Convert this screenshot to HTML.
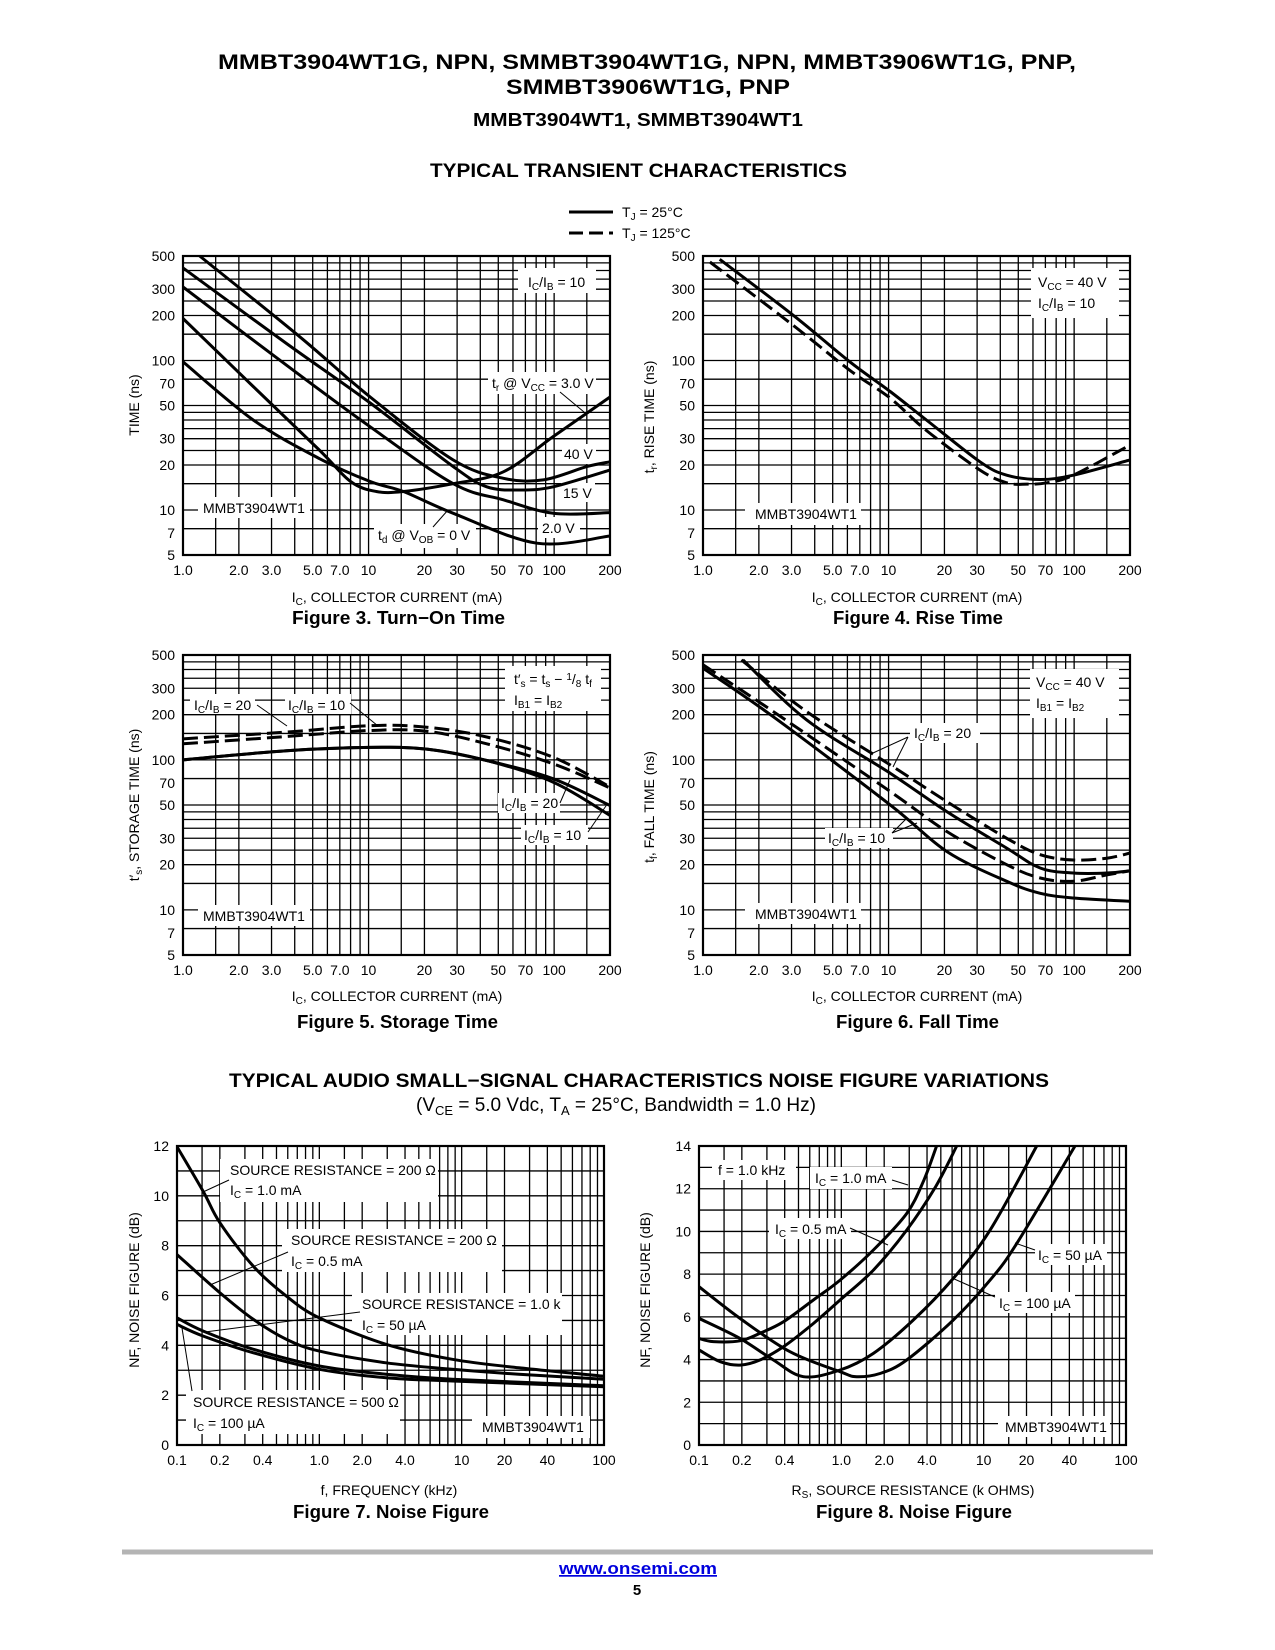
<!DOCTYPE html>
<html><head><meta charset="utf-8"><style>
html,body{margin:0;padding:0;background:#fff;}
svg{display:block;font-family:"Liberation Sans",Arial,sans-serif;}
.t{font-size:14px;fill:#000;}
.b{font-weight:bold;}
</style></head><body>
<svg id="page" width="1275" height="1650" viewBox="0 0 1275 1650" xmlns="http://www.w3.org/2000/svg">
<rect width="1275" height="1650" fill="#fff"/>
<text x="218" y="69" font-size="21" font-weight="bold" textLength="858" lengthAdjust="spacingAndGlyphs">MMBT3904WT1G, NPN, SMMBT3904WT1G, NPN, MMBT3906WT1G, PNP,</text>
<text x="506" y="94" font-size="21" font-weight="bold" textLength="284" lengthAdjust="spacingAndGlyphs">SMMBT3906WT1G, PNP</text>
<text x="473" y="126" font-size="18" font-weight="bold" textLength="330" lengthAdjust="spacingAndGlyphs">MMBT3904WT1, SMMBT3904WT1</text>
<text x="430" y="177" font-size="19" font-weight="bold" textLength="417" lengthAdjust="spacingAndGlyphs">TYPICAL TRANSIENT CHARACTERISTICS</text>
<g>
<line x1="569" y1="212" x2="613" y2="212" stroke="#000" stroke-width="3"/>
<text class="t" x="622" y="217">T<tspan font-size="10" dy="3">J</tspan><tspan dy="-3"> = 25°C</tspan></text>
<line x1="569" y1="233" x2="613" y2="233" stroke="#000" stroke-width="3" stroke-dasharray="14 6"/>
<text class="t" x="622" y="238">T<tspan font-size="10" dy="3">J</tspan><tspan dy="-3"> = 125°C</tspan></text>
</g>
<g id="charts"></g>
<g id="annots">
<rect x="518" y="268" width="78" height="25" fill="#fff"/>
<text class="t" x="528" y="287">I<tspan font-size="10" dy="3">C</tspan><tspan dy="-3">/I</tspan><tspan font-size="10" dy="3">B</tspan><tspan dy="-3"> = 10</tspan></text>
<rect x="488" y="372" width="108" height="22" fill="#fff"/>
<text class="t" x="492" y="388">t<tspan font-size="10" dy="3">r</tspan><tspan dy="-3"> @ V</tspan><tspan font-size="10" dy="3">CC</tspan><tspan dy="-3"> = 3.0 V</tspan></text>
<line x1="560" y1="392" x2="584" y2="412" stroke="#000" stroke-width="1"/>
<rect x="562" y="444" width="34" height="20" fill="#fff"/>
<text class="t" x="564" y="459">40 V</text>
<rect x="561" y="483" width="34" height="19" fill="#fff"/>
<text class="t" x="563" y="498">15 V</text>
<rect x="538" y="517" width="42" height="21" fill="#fff"/>
<text class="t" x="542" y="533">2.0 V</text>
<rect x="374" y="524" width="102" height="24" fill="#fff"/>
<text class="t" x="378" y="540">t<tspan font-size="10" dy="3">d</tspan><tspan dy="-3"> @ V</tspan><tspan font-size="10" dy="3">OB</tspan><tspan dy="-3"> = 0 V</tspan></text>
<line x1="433" y1="527" x2="448" y2="510" stroke="#000" stroke-width="1"/>
<rect x="198" y="497" width="112" height="21" fill="#fff"/>
<text class="t" x="203" y="513">MMBT3904WT1</text>
<rect x="1031" y="268" width="88" height="50" fill="#fff"/>
<text class="t" x="1038" y="287">V<tspan font-size="10" dy="3">CC</tspan><tspan dy="-3"> = 40 V</tspan></text>
<text class="t" x="1038" y="308">I<tspan font-size="10" dy="3">C</tspan><tspan dy="-3">/I</tspan><tspan font-size="10" dy="3">B</tspan><tspan dy="-3"> = 10</tspan></text>
<rect x="745" y="503" width="116" height="22" fill="#fff"/>
<text class="t" x="755" y="519">MMBT3904WT1</text>
<rect x="505" y="666" width="96" height="45" fill="#fff"/>
<text class="t" x="514" y="684">t′<tspan font-size="10" dy="3">s</tspan><tspan dy="-3"> = t</tspan><tspan font-size="10" dy="3">s</tspan><tspan dy="-3"> − </tspan><tspan font-size="10" dy="-4">1</tspan><tspan dy="4">/</tspan><tspan font-size="10" dy="3">8</tspan><tspan dy="-3"> t</tspan><tspan font-size="10" dy="3">f</tspan></text>
<text class="t" x="514" y="705">I<tspan font-size="10" dy="3">B1</tspan><tspan dy="-3"> = I</tspan><tspan font-size="10" dy="3">B2</tspan></text>
<rect x="190" y="694" width="65" height="20" fill="#fff"/>
<text class="t" x="194" y="710">I<tspan font-size="10" dy="3">C</tspan><tspan dy="-3">/I</tspan><tspan font-size="10" dy="3">B</tspan><tspan dy="-3"> = 20</tspan></text>
<line x1="257" y1="705" x2="287" y2="726" stroke="#000" stroke-width="1"/>
<rect x="285" y="694" width="66" height="20" fill="#fff"/>
<text class="t" x="288" y="710">I<tspan font-size="10" dy="3">C</tspan><tspan dy="-3">/I</tspan><tspan font-size="10" dy="3">B</tspan><tspan dy="-3"> = 10</tspan></text>
<line x1="350" y1="703" x2="378" y2="726" stroke="#000" stroke-width="1"/>
<rect x="498" y="793" width="62" height="20" fill="#fff"/>
<text class="t" x="501" y="808">I<tspan font-size="10" dy="3">C</tspan><tspan dy="-3">/I</tspan><tspan font-size="10" dy="3">B</tspan><tspan dy="-3"> = 20</tspan></text>
<line x1="560" y1="803" x2="570" y2="780" stroke="#000" stroke-width="1"/>
<rect x="521" y="825" width="67" height="20" fill="#fff"/>
<text class="t" x="524" y="840">I<tspan font-size="10" dy="3">C</tspan><tspan dy="-3">/I</tspan><tspan font-size="10" dy="3">B</tspan><tspan dy="-3"> = 10</tspan></text>
<line x1="588" y1="832" x2="608" y2="803" stroke="#000" stroke-width="1"/>
<rect x="198" y="905" width="112" height="21" fill="#fff"/>
<text class="t" x="203" y="921">MMBT3904WT1</text>
<rect x="1030" y="669" width="89" height="49" fill="#fff"/>
<text class="t" x="1036" y="687">V<tspan font-size="10" dy="3">CC</tspan><tspan dy="-3"> = 40 V</tspan></text>
<text class="t" x="1036" y="708">I<tspan font-size="10" dy="3">B1</tspan><tspan dy="-3"> = I</tspan><tspan font-size="10" dy="3">B2</tspan></text>
<rect x="910" y="723" width="70" height="20" fill="#fff"/>
<text class="t" x="914" y="738">I<tspan font-size="10" dy="3">C</tspan><tspan dy="-3">/I</tspan><tspan font-size="10" dy="3">B</tspan><tspan dy="-3"> = 20</tspan></text>
<path d="M908,737 L873,753 M908,737 L893,767" stroke="#000" stroke-width="1" fill="none"/>
<rect x="825" y="828" width="68" height="20" fill="#fff"/>
<text class="t" x="828" y="843">I<tspan font-size="10" dy="3">C</tspan><tspan dy="-3">/I</tspan><tspan font-size="10" dy="3">B</tspan><tspan dy="-3"> = 10</tspan></text>
<path d="M892,833 L907,818 M892,833 L917,823" stroke="#000" stroke-width="1" fill="none"/>
<rect x="745" y="903" width="116" height="21" fill="#fff"/>
<text class="t" x="755" y="919">MMBT3904WT1</text>
<rect x="220" y="1159" width="218" height="43" fill="#fff"/>
<text class="t" x="230" y="1175">SOURCE RESISTANCE = 200 Ω</text>
<text class="t" x="230" y="1195">I<tspan font-size="10" dy="3">C</tspan><tspan dy="-3"> = 1.0 mA</tspan></text>
<line x1="229" y1="1180" x2="203" y2="1192" stroke="#000" stroke-width="1"/>
<rect x="282" y="1229" width="220" height="43" fill="#fff"/>
<text class="t" x="291" y="1245">SOURCE RESISTANCE = 200 Ω</text>
<text class="t" x="291" y="1266">I<tspan font-size="10" dy="3">C</tspan><tspan dy="-3"> = 0.5 mA</tspan></text>
<line x1="288" y1="1252" x2="210" y2="1285" stroke="#000" stroke-width="1"/>
<rect x="352" y="1293" width="210" height="42" fill="#fff"/>
<text class="t" x="362" y="1309">SOURCE RESISTANCE = 1.0 k</text>
<text class="t" x="362" y="1330">I<tspan font-size="10" dy="3">C</tspan><tspan dy="-3"> = 50 µA</tspan></text>
<line x1="360" y1="1312" x2="205" y2="1332" stroke="#000" stroke-width="1"/>
<rect x="186" y="1390" width="214" height="44" fill="#fff"/>
<text class="t" x="193" y="1407">SOURCE RESISTANCE = 500 Ω</text>
<text class="t" x="193" y="1428">I<tspan font-size="10" dy="3">C</tspan><tspan dy="-3"> = 100 µA</tspan></text>
<line x1="192" y1="1391" x2="182" y2="1328" stroke="#000" stroke-width="1"/>
<rect x="472" y="1416" width="118" height="22" fill="#fff"/>
<text class="t" x="482" y="1432">MMBT3904WT1</text>
<rect x="712" y="1160" width="84" height="20" fill="#fff"/>
<text class="t" x="718" y="1175">f = 1.0 kHz</text>
<rect x="810" y="1167" width="82" height="22" fill="#fff"/>
<text class="t" x="815" y="1183">I<tspan font-size="10" dy="3">C</tspan><tspan dy="-3"> = 1.0 mA</tspan></text>
<line x1="892" y1="1180" x2="908" y2="1185" stroke="#000" stroke-width="1"/>
<rect x="769" y="1218" width="82" height="21" fill="#fff"/>
<text class="t" x="775" y="1234">I<tspan font-size="10" dy="3">C</tspan><tspan dy="-3"> = 0.5 mA</tspan></text>
<line x1="850" y1="1228" x2="888" y2="1245" stroke="#000" stroke-width="1"/>
<rect x="1035" y="1244" width="72" height="21" fill="#fff"/>
<text class="t" x="1038" y="1260">I<tspan font-size="10" dy="3">C</tspan><tspan dy="-3"> = 50 µA</tspan></text>
<line x1="1035" y1="1250" x2="1015" y2="1243" stroke="#000" stroke-width="1"/>
<rect x="995" y="1292" width="80" height="21" fill="#fff"/>
<text class="t" x="999" y="1308">I<tspan font-size="10" dy="3">C</tspan><tspan dy="-3"> = 100 µA</tspan></text>
<line x1="995" y1="1297" x2="952" y2="1278" stroke="#000" stroke-width="1"/>
<rect x="998" y="1416" width="112" height="21" fill="#fff"/>
<text class="t" x="1005" y="1432">MMBT3904WT1</text>
</g>
<g id="curves"></g>
<text class="t" transform="translate(139,405) rotate(-90)" text-anchor="middle">TIME (ns)</text>
<text class="t" transform="translate(654,417) rotate(-90)" text-anchor="middle">t<tspan font-size="10" dy="3">r</tspan><tspan dy="-3">, RISE TIME (ns)</tspan></text>
<text class="t" transform="translate(139,805) rotate(-90)" text-anchor="middle">t′<tspan font-size="10" dy="3">s</tspan><tspan dy="-3">, STORAGE TIME (ns)</tspan></text>
<text class="t" transform="translate(654,807) rotate(-90)" text-anchor="middle">t<tspan font-size="10" dy="3">f</tspan><tspan dy="-3">, FALL TIME (ns)</tspan></text>
<text class="t" transform="translate(139,1290) rotate(-90)" text-anchor="middle">NF, NOISE FIGURE (dB)</text>
<text class="t" transform="translate(650,1290) rotate(-90)" text-anchor="middle">NF, NOISE FIGURE (dB)</text>
<text class="t" x="397" y="602" text-anchor="middle">I<tspan font-size="10" dy="3">C</tspan><tspan dy="-3">, COLLECTOR CURRENT (mA)</tspan></text>
<text class="t" x="917" y="602" text-anchor="middle">I<tspan font-size="10" dy="3">C</tspan><tspan dy="-3">, COLLECTOR CURRENT (mA)</tspan></text>
<text class="t" x="397" y="1001" text-anchor="middle">I<tspan font-size="10" dy="3">C</tspan><tspan dy="-3">, COLLECTOR CURRENT (mA)</tspan></text>
<text class="t" x="917" y="1001" text-anchor="middle">I<tspan font-size="10" dy="3">C</tspan><tspan dy="-3">, COLLECTOR CURRENT (mA)</tspan></text>
<text class="t" x="389" y="1495" text-anchor="middle">f, FREQUENCY (kHz)</text>
<text class="t" x="913" y="1495" text-anchor="middle">R<tspan font-size="10" dy="3">S</tspan><tspan dy="-3">, SOURCE RESISTANCE (k OHMS)</tspan></text>
<text x="292" y="624" font-size="18" font-weight="bold" textLength="213" lengthAdjust="spacingAndGlyphs">Figure 3. Turn−On Time</text>
<text x="833" y="624" font-size="18" font-weight="bold" textLength="170" lengthAdjust="spacingAndGlyphs">Figure 4. Rise Time</text>
<text x="297" y="1028" font-size="18" font-weight="bold" textLength="201" lengthAdjust="spacingAndGlyphs">Figure 5. Storage Time</text>
<text x="836" y="1028" font-size="18" font-weight="bold" textLength="163" lengthAdjust="spacingAndGlyphs">Figure 6. Fall Time</text>
<text x="229" y="1087" font-size="19" font-weight="bold" textLength="820" lengthAdjust="spacingAndGlyphs">TYPICAL AUDIO SMALL−SIGNAL CHARACTERISTICS NOISE FIGURE VARIATIONS</text>
<text x="416" y="1111" font-size="19">(V<tspan font-size="13" dy="4">CE</tspan><tspan dy="-4"> = 5.0 Vdc, T</tspan><tspan font-size="13" dy="4">A</tspan><tspan dy="-4"> = 25°C, Bandwidth = 1.0 Hz)</tspan></text>
<text x="293" y="1518" font-size="18" font-weight="bold" textLength="196" lengthAdjust="spacingAndGlyphs">Figure 7. Noise Figure</text>
<text x="816" y="1518" font-size="18" font-weight="bold" textLength="196" lengthAdjust="spacingAndGlyphs">Figure 8. Noise Figure</text>
<line x1="122" y1="1552" x2="1153" y2="1552" stroke="#b4b4b4" stroke-width="5"/>
<text x="559" y="1574" font-size="17" font-weight="bold" fill="#0000dd" text-decoration="underline" textLength="158" lengthAdjust="spacingAndGlyphs">www.onsemi.com</text>
<text x="637" y="1595" font-size="15" font-weight="bold" text-anchor="middle">5</text>
</svg>
<script>
const fig3_40v_ic = [1.23,4.26,10.2,28.6,53.3,87.5,150,200];
const fig3_40v_t = [500,144,57,21.6,16.3,15.9,19.5,21];
const fig3_15v_ic = [1,3.61,10.2,28.6,43.3,65.6,99,200];
const fig3_15v_t = [416,130,52,19.5,14.3,13.6,14.3,18.5];
const fig3_2v_ic = [1,3.61,10.2,28.6,53.3,99,200];
const fig3_2v_t = [310,93,36,15,11.7,9.5,9.6];
const fig3_tr3v_ic = [1,2.39,5.46,8,11,15.4,28.6,53.3,99,200];
const fig3_tr3v_t = [191,67,25,15.5,13.3,13.3,15,18,31,57];
const fig3_td_ic = [1,2.39,5.46,10.2,15.4,28.6,80.6,200];
const fig3_td_t = [98,40,22,15.5,13.3,9.5,6,6.7];
const fig4_25c_ic = [1.23,3.06,6.18,10.2,16,31.1,43.3,65.6,99,200];
const fig4_25c_t = [475,201,98,62,40,21,17.1,16,17.1,21.6];
const fig4_125c_ic = [1.09,3.06,6.18,10.2,16,31.1,43.3,55.6,71.2,99,200];
const fig4_125c_t = [456,172,86,56,34,18.5,15.2,14.9,15.2,17.1,27.2];
const fig5_ic = [1,3.61,10.2,20.6,43.3,99,200];
const fig5_125c_r10_t = [138,153,169,165,142,104,66];
const fig5_125c_r20_t = [128,143,157,155,128,94,65];
const fig5_25c_r20_t = [100,115,121,118,99,74.7,49.6];
const fig5_25c_r10_t = [100,115,121,118,99,71,42.6];
const fig6_r20_125c_ic = [1.61,3.61,10.2,20.6,43.3,65.6,99,150,200];
const fig6_r20_125c_t = [464,210,92.6,52.7,30,23.3,21.5,22.1,23.9];
const fig6_r20_25c_ic = [1.64,3.61,10.2,20.6,43.3,65.6,99,150,200];
const fig6_r20_25c_t = [464,185,81.5,45.2,25.8,19,17.6,17.6,18.2];
const fig6_r10_125c_ic = [1,2.39,10.2,20.6,43.3,65.6,99,150,200];
const fig6_r10_125c_t = [430,210,61.5,33.3,20,16.3,15.5,17.1,18.2];
const fig6_r10_25c_ic = [1,2.39,10.2,20.6,43.3,65.6,99,200];
const fig6_r10_25c_t = [408,194,50.1,24.5,15.5,12.9,12,11.4];
const fig7_a_f = [0.1,0.153,0.201,0.344,0.588,1.0,2.94,8.6,25.2,100];
const fig7_a_nf = [11.97,10.17,8.9,7.17,5.97,5.1,4.04,3.44,3.1,2.76];
const fig7_b_f = [0.1,0.201,0.344,0.588,1.0,2.94,8.6,25.2,100];
const fig7_b_nf = [7.64,6.1,5.04,4.24,3.77,3.3,3.04,2.84,2.64];
const fig7_c_f = [0.1,0.153,0.344,1.0,2.94,8.6,100];
const fig7_c_nf = [5.1,4.57,3.84,3.17,2.84,2.64,2.38];
const fig7_d_f = [0.1,0.153,0.344,1.0,2.94,8.6,100];
const fig7_d_nf = [4.84,4.37,3.7,3.04,2.7,2.57,2.34];
const fig8_1ma_rs = [0.1,0.126,0.194,0.268,0.392,0.636,0.98,1.68,2.88,3.8,4.67];
const fig8_1ma_nf = [4.99,4.84,4.88,5.23,5.77,6.79,7.72,9.13,10.84,12.4,14];
const fig8_05ma_rs = [0.1,0.141,0.194,0.268,0.392,0.636,0.98,1.68,2.88,4.6,6.46];
const fig8_05ma_nf = [4.45,3.9,3.74,3.98,4.6,5.69,6.79,8.19,10.06,12.1,14];
const fig8_100ua_rs = [0.1,0.194,0.333,0.541,0.98,1.68,3.2,6.12,11.1,23.6];
const fig8_100ua_nf = [5.93,4.99,3.98,3.2,3.51,4.29,5.85,7.8,10.06,14];
const fig8_50ua_rs = [0.1,0.194,0.436,0.98,1.28,1.87,2.88,6.12,11.1,17.1,43.8];
const fig8_50ua_nf = [7.41,5.93,4.37,3.43,3.2,3.35,3.98,5.85,7.72,9.44,14];
const transientXTicks = [1,2,3,5,7,10,20,30,50,70,100,200];
const transientXTickText = ["1.0","2.0","3.0","5.0","7.0","10","20","30","50","70","100","200"];
const transientYTicks = [5,7,10,20,30,50,70,100,200,300,500];
const noiseXTicks = [0.1,0.2,0.4,1,2,4,10,20,40,100];
const noiseXTickText = ["0.1","0.2","0.4","1.0","2.0","4.0","10","20","40","100"];
const fig7YTicks = [0,2,4,6,8,10,12];
const fig8YTicks = [0,2,4,6,8,10,12,14];

const NS = "http://www.w3.org/2000/svg";
const chartsG = document.getElementById('charts');
const curvesG = document.getElementById('curves');
function mk(tag, attrs, parent){ const e=document.createElementNS(NS,tag); for(const k in attrs) e.setAttribute(k,attrs[k]); parent.appendChild(e); return e; }
function logScale(d0,d1,p0,p1){ const a=Math.log10(d0),b=Math.log10(d1); return v=>p0+(Math.log10(v)-a)/(b-a)*(p1-p0); }
function linScale(d0,d1,p0,p1){ return v=>p0+(v-d0)/(d1-d0)*(p1-p0); }
function decadeLines(lo,hi,mults){ const out=[]; for(let d=lo; d<hi*1.0001; d*=10){ for(const m of mults){ const v=d*m; if(v>=lo*0.9999 && v<=hi*1.0001) out.push(v);} } return out; }
function smooth(pts){ let d='M'+pts[0][0].toFixed(1)+','+pts[0][1].toFixed(1); for(let i=0;i<pts.length-1;i++){ const p0=pts[i-1]||pts[i],p1=pts[i],p2=pts[i+1],p3=pts[i+2]||p2; const c1=[p1[0]+(p2[0]-p0[0])/6,p1[1]+(p2[1]-p0[1])/6]; const c2=[p2[0]-(p3[0]-p1[0])/6,p2[1]-(p3[1]-p1[1])/6]; d+=' C'+c1[0].toFixed(1)+','+c1[1].toFixed(1)+' '+c2[0].toFixed(1)+','+c2[1].toFixed(1)+' '+p2[0].toFixed(1)+','+p2[1].toFixed(1);} return d; }

function chart(id, box, sx, sy, vgrid, hgrid, xt, xtText, yt, ytText){
  const g = mk('g',{},chartsG);
  
  
  for(const v of vgrid){ const x=sx(v); const l=mk('line',{x1:x,y1:box.t,x2:x,y2:box.b,stroke:'#000','stroke-width':1.3},g);
    
     }
  for(const v of hgrid){ const y=sy(v); const l=mk('line',{x1:box.l,y1:y,x2:box.r,y2:y,stroke:'#000','stroke-width':1.3},g);
    
     }
  const fr = mk('rect',{x:box.l,y:box.t,width:box.r-box.l,height:box.b-box.t,fill:'none',stroke:'#000','stroke-width':2.2},curvesG);
  
  
  xt.forEach((v,i)=>{ const t=mk('text',{x:sx(v),y:box.b+20,'text-anchor':'middle',class:'t'},g); t.textContent=xtText[i];
    
     });
  yt.forEach((v,i)=>{ const t=mk('text',{x:box.l-8,y:sy(v)+5,'text-anchor':'end',class:'t'},g); t.textContent=ytText[i];
    
     });
  const cp = mk('clipPath',{id:id+'-clip'},g);
  
  
  mk('rect',{x:box.l,y:box.t-2,width:box.r-box.l,height:box.b-box.t+4},cp);
}
function series(id, name, sx, sy, xs, ys, dashed){
  const pts = xs.map((x,i)=>[sx(x), sy(ys[i])]);
  const p = mk('path',{d:smooth(pts),fill:'none',stroke:'#000','stroke-width':3,'clip-path':'url(#'+id+'-clip)'},curvesG);
  if(dashed) p.setAttribute('stroke-dasharray','15 6');
  
  
}

const tVgrid = decadeLines(1,200,[1,1.5,2,3,4,5,6,7,8,9]);
const tHgrid = decadeLines(5,500,[1,1.5,2,3,4,5,6,7,8,9]).filter(v=>v>=5);
const nVgrid = decadeLines(0.1,100,[1,1.5,2,3,4,5,6,7,8,9]);
const tYText = transientYTicks.map(String);

let B={l:183,r:610,t:256,b:555}; let sx=logScale(1,200,B.l,B.r), sy=logScale(5,500,B.b,B.t);
chart('fig3',B,sx,sy,tVgrid,tHgrid,transientXTicks,transientXTickText,transientYTicks,tYText);
series('fig3','fig3-tr-40v',sx,sy,fig3_40v_ic,fig3_40v_t);
series('fig3','fig3-tr-15v',sx,sy,fig3_15v_ic,fig3_15v_t);
series('fig3','fig3-tr-2v',sx,sy,fig3_2v_ic,fig3_2v_t);
series('fig3','fig3-tr-3v',sx,sy,fig3_tr3v_ic,fig3_tr3v_t);
series('fig3','fig3-td-0v',sx,sy,fig3_td_ic,fig3_td_t);
B={l:703,r:1130,t:256,b:555}; sx=logScale(1,200,B.l,B.r); sy=logScale(5,500,B.b,B.t);
chart('fig4',B,sx,sy,tVgrid,tHgrid,transientXTicks,transientXTickText,transientYTicks,tYText);
series('fig4','fig4-rise-25c',sx,sy,fig4_25c_ic,fig4_25c_t);
series('fig4','fig4-rise-125c',sx,sy,fig4_125c_ic,fig4_125c_t,true);
B={l:183,r:610,t:655,b:955}; sx=logScale(1,200,B.l,B.r); sy=logScale(5,500,B.b,B.t);
chart('fig5',B,sx,sy,tVgrid,tHgrid,transientXTicks,transientXTickText,transientYTicks,tYText);
series('fig5','fig5-125c-ratio10',sx,sy,fig5_ic,fig5_125c_r10_t,true);
series('fig5','fig5-125c-ratio20',sx,sy,fig5_ic,fig5_125c_r20_t,true);
series('fig5','fig5-25c-ratio20',sx,sy,fig5_ic,fig5_25c_r20_t);
series('fig5','fig5-25c-ratio10',sx,sy,fig5_ic,fig5_25c_r10_t);
B={l:703,r:1130,t:655,b:955}; sx=logScale(1,200,B.l,B.r); sy=logScale(5,500,B.b,B.t);
chart('fig6',B,sx,sy,tVgrid,tHgrid,transientXTicks,transientXTickText,transientYTicks,tYText);
series('fig6','fig6-ratio20-125c',sx,sy,fig6_r20_125c_ic,fig6_r20_125c_t,true);
series('fig6','fig6-ratio20-25c',sx,sy,fig6_r20_25c_ic,fig6_r20_25c_t);
series('fig6','fig6-ratio10-125c',sx,sy,fig6_r10_125c_ic,fig6_r10_125c_t,true);
series('fig6','fig6-ratio10-25c',sx,sy,fig6_r10_25c_ic,fig6_r10_25c_t);
B={l:177,r:604,t:1146,b:1445}; sx=logScale(0.1,100,B.l,B.r); sy=linScale(0,12,B.b,B.t);
chart('fig7',B,sx,sy,nVgrid,[1,2,3,4,5,6,7,8,9,10,11],noiseXTicks,noiseXTickText,fig7YTicks,fig7YTicks.map(String));
series('fig7','fig7-200ohm-1ma',sx,sy,fig7_a_f,fig7_a_nf);
series('fig7','fig7-200ohm-05ma',sx,sy,fig7_b_f,fig7_b_nf);
series('fig7','fig7-1k-50ua',sx,sy,fig7_c_f,fig7_c_nf);
series('fig7','fig7-500ohm-100ua',sx,sy,fig7_d_f,fig7_d_nf);
B={l:699,r:1126,t:1146,b:1445}; sx=logScale(0.1,100,B.l,B.r); sy=linScale(0,14,B.b,B.t);
chart('fig8',B,sx,sy,nVgrid,[1,2,3,4,5,6,7,8,9,10,11,12,13],noiseXTicks,noiseXTickText,fig8YTicks,fig8YTicks.map(String));
series('fig8','fig8-ic-1ma',sx,sy,fig8_1ma_rs,fig8_1ma_nf);
series('fig8','fig8-ic-05ma',sx,sy,fig8_05ma_rs,fig8_05ma_nf);
series('fig8','fig8-ic-100ua',sx,sy,fig8_100ua_rs,fig8_100ua_nf);
series('fig8','fig8-ic-50ua',sx,sy,fig8_50ua_rs,fig8_50ua_nf);
</script>
</body></html>
